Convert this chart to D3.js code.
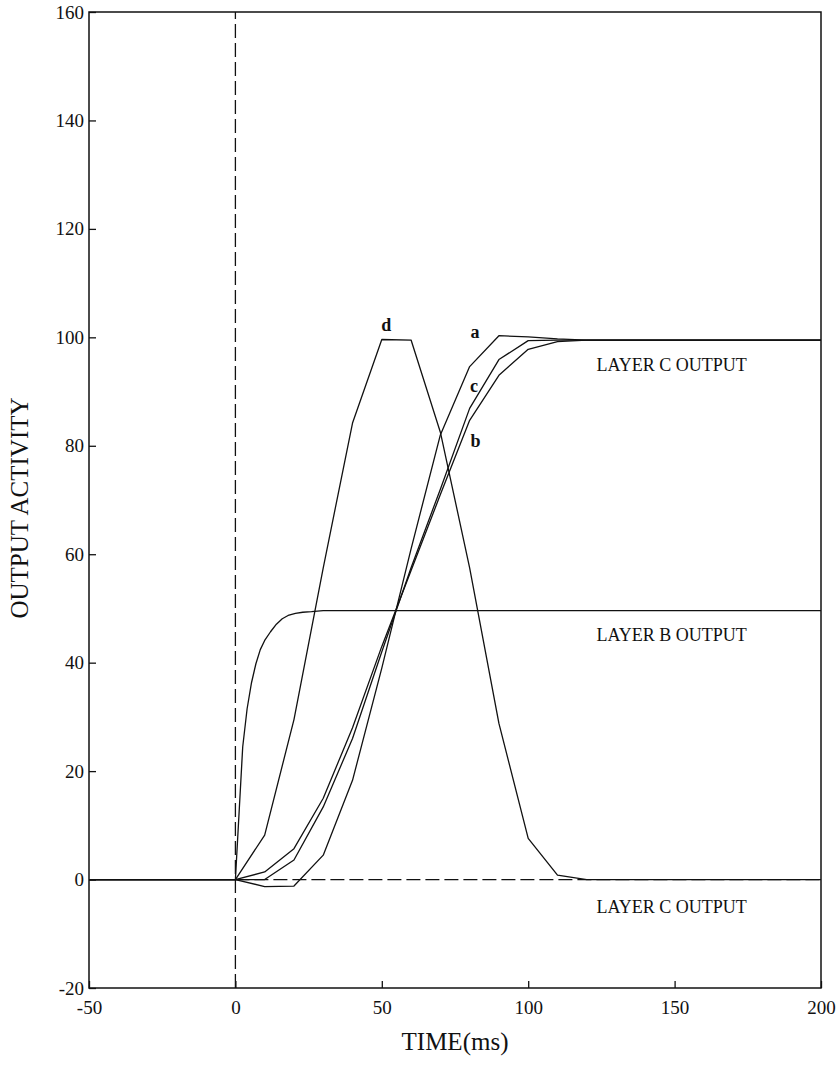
<!DOCTYPE html>
<html>
<head>
<meta charset="utf-8">
<script src="https://cdn.jsdelivr.net/npm/d3@7"></script>
<style>
  body { margin: 0; background: #fff; }
  text { font-family: "Liberation Serif", "Times New Roman", serif; fill: #111; }
</style>
</head>
<body>
<div id="chart"></div>
<script>

// time samples (ms) shared by the layer C curves
var timeMs = [-50, 0, 10, 20, 30, 40, 50, 60, 70, 80, 90, 100, 110, 120, 200];

// layer C output curves a, b, c, d
var curveA = [0, 0, -1.3, -1.2, 4.5, 18.3, 39, 61, 82, 94.6, 100.3, 100.1, 99.7, 99.5, 99.5];
var curveB = [0, 0, 1.4, 5.7, 15, 28, 43, 57, 71, 84.7, 93, 97.8, 99.2, 99.5, 99.5];
var curveC = [0, 0, 0, 3.6, 13.4, 26, 42, 57.5, 72, 86.9, 95.9, 99.4, 99.5, 99.5, 99.5];
var curveD = [0, 0, 8.2, 29.5, 57.5, 84.2, 99.6, 99.5, 82.5, 57.5, 28.8, 7.6, 0.8, 0, 0];

// layer B output
var layerBTime = [-50, 0, 2.5, 4, 5.5, 7, 8.5, 10, 12, 14, 16, 18, 20.5, 23, 26, 30, 200];
var layerBValue = [0, 0, 24.5, 31.5, 36.3, 39.8, 42.4, 44.1, 45.7, 47.1, 48.1, 48.7, 49.1, 49.3, 49.4, 49.6, 49.6];

// dashed reference lines
var baselineTime = [0, 200];
var baselineValue = [0, 0];

var xTicks = [-50, 0, 50, 100, 150, 200];
var yTicks = [-20, 0, 20, 40, 60, 80, 100, 120, 140, 160];

var curveNames = ["a", "b", "c", "d"];
var layerLabels = ["LAYER C OUTPUT", "LAYER B OUTPUT", "LAYER C OUTPUT"];

function drawChart() {

  var svgWidth = 839;
  var svgHeight = 1070;

  var margin = {
    top: 12,
    right: 18,
    bottom: 82,
    left: 89
  };

  var width = svgWidth - margin.left - margin.right;
  var height = svgHeight - margin.top - margin.bottom;

  var svg = d3.select("#chart")
    .append("svg")
    .attr("width", svgWidth)
    .attr("height", svgHeight);

  var chartGroup = svg.append("g")
    .attr("transform", `translate(${margin.left}, ${margin.top})`);

  var xScale = d3.scaleLinear()
    .domain([-50, 200])
    .range([0, width]);

  var yScale = d3.scaleLinear()
    .domain([-20, 160])
    .range([height, 0]);

  // axes, ticks pointing inward, plain hyphen for negatives
  var xAxis = d3.axisBottom(xScale)
    .tickValues(xTicks)
    .tickFormat(d => String(d))
    .tickSizeInner(-7)
    .tickSizeOuter(0)
    .tickPadding(13);

  var yAxis = d3.axisLeft(yScale)
    .tickValues(yTicks)
    .tickFormat(d => String(d))
    .tickSizeInner(-7)
    .tickSizeOuter(0)
    .tickPadding(5);

  var xAxisGroup = chartGroup.append("g")
    .attr("transform", `translate(0, ${height})`)
    .call(xAxis);

  var yAxisGroup = chartGroup.append("g")
    .call(yAxis);

  [xAxisGroup, yAxisGroup].forEach(function(g) {
    g.attr("font-family", null).attr("font-size", null);
    g.selectAll("text")
      .style("font-family", "'Liberation Serif', serif")
      .style("font-size", "19px")
      .attr("fill", "#111");
    g.selectAll("line").attr("stroke", "#111").attr("stroke-width", 1.3);
    g.select(".domain").remove();
  });

  // frame
  chartGroup.append("rect")
    .attr("x", 0)
    .attr("y", 0)
    .attr("width", width)
    .attr("height", height)
    .attr("fill", "none")
    .attr("stroke", "#111")
    .attr("stroke-width", 1.5);

  var line = d3.line()
    .x(d => xScale(d[0]))
    .y(d => yScale(d[1]));

  // dashed vertical at t = 0 and dashed baseline
  chartGroup.append("path")
    .datum([[0, -20], [0, 160]])
    .attr("d", line)
    .attr("fill", "none")
    .attr("stroke", "#111")
    .attr("stroke-width", 1.3)
    .attr("stroke-dasharray", "14,5");

  chartGroup.append("path")
    .datum(baselineTime.map((t, i) => [t, baselineValue[i]]))
    .attr("d", line)
    .attr("fill", "none")
    .attr("stroke", "#111")
    .attr("stroke-width", 1.3)
    .attr("stroke-dasharray", "14,5");

  var series = [curveA, curveB, curveC, curveD].map(function(vals) {
    return timeMs.map((t, i) => [t, vals[i]]);
  });
  series.push(layerBTime.map((t, i) => [t, layerBValue[i]]));

  chartGroup.selectAll(".curve")
    .data(series)
    .enter()
    .append("path")
    .attr("class", "curve")
    .attr("d", line)
    .attr("fill", "none")
    .attr("stroke", "#111")
    .attr("stroke-width", 1.3)
    .attr("stroke-linejoin", "round");

  // curve letters (data coordinates)
  var letterSpots = [[81.8, 99.8], [82, 79.8], [81.5, 90], [51.5, 101.2]];
  chartGroup.selectAll(".letter")
    .data(curveNames)
    .enter()
    .append("text")
    .attr("class", "letter")
    .attr("x", (d, i) => xScale(letterSpots[i][0]))
    .attr("y", (d, i) => yScale(letterSpots[i][1]))
    .attr("text-anchor", "middle")
    .attr("font-size", "18px")
    .attr("font-weight", "bold")
    .text(d => d);

  var layerSpots = [[123.3, 93.8], [123.3, 44.0], [123.3, -6.1]];
  chartGroup.selectAll(".layer")
    .data(layerLabels)
    .enter()
    .append("text")
    .attr("class", "layer")
    .attr("x", (d, i) => xScale(layerSpots[i][0]))
    .attr("y", (d, i) => yScale(layerSpots[i][1]))
    .attr("font-size", "18px")
    .text(d => d);

  // axis titles
  svg.append("text")
    .attr("x", margin.left + width / 2)
    .attr("y", 1050)
    .attr("text-anchor", "middle")
    .attr("font-size", "25px")
    .text("TIME(ms)");

  svg.append("text")
    .attr("transform", "translate(28, 508) rotate(-90)")
    .attr("text-anchor", "middle")
    .attr("font-size", "25px")
    .text("OUTPUT ACTIVITY");
}

document.addEventListener('DOMContentLoaded', function(){
  drawChart();
});
</script>
</body>
</html>
